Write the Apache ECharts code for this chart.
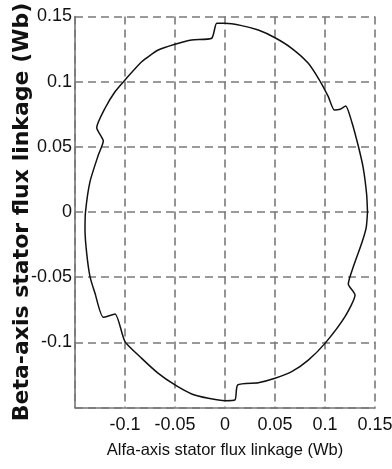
<!DOCTYPE html>
<html>
<head>
<meta charset="utf-8">
<script src="https://cdn.jsdelivr.net/npm/echarts@6/dist/echarts.min.js"></script>
<style>html,body{margin:0;padding:0;background:#fff}#c{width:392px;height:469px}</style>
</head>
<body>
<div id="c"></div>
<script>
// Stator flux trajectory (alpha, beta) in Wb, traced counterclockwise
var fluxAlpha = [0.1425, 0.1417, 0.1383, 0.1333, 0.1267, 0.1207, 0.115, 0.1093, 0.1033, 0.095, 0.0833, 0.0667, 0.05, 0.0333, 0.0167, 0, -0.0083, -0.0133, -0.0333, -0.05, -0.0667, -0.0833, -0.1, -0.11, -0.12, -0.1283, -0.1217, -0.1267, -0.135, -0.1395, -0.14, -0.1383, -0.135, -0.13, -0.1217, -0.11, -0.1, -0.0833, -0.0667, -0.05, -0.0333, -0.0167, 0, 0.01, 0.0127, 0.0333, 0.05, 0.0667, 0.0833, 0.1, 0.12, 0.13, 0.1233, 0.1283, 0.1367, 0.1412, 0.1425];
var fluxBeta = [0.0, 0.013, 0.0335, 0.0506, 0.0693, 0.0813, 0.0788, 0.0783, 0.0885, 0.1005, 0.1141, 0.1256, 0.1337, 0.1396, 0.143, 0.1448, 0.1448, 0.1333, 0.132, 0.1287, 0.1243, 0.1153, 0.1013, 0.0923, 0.0796, 0.0647, 0.0545, 0.0437, 0.0233, 0.0, -0.0138, -0.0317, -0.0496, -0.0624, -0.0808, -0.0783, -0.0995, -0.1123, -0.1238, -0.1327, -0.1396, -0.1429, -0.1448, -0.1442, -0.1327, -0.131, -0.1276, -0.1225, -0.1136, -0.1008, -0.0803, -0.0637, -0.0552, -0.042, -0.024, -0.012, 0.0];
var xTickLabels = ['', '-0.1', '-0.05', '0', '0.05', '0.1', '0.15'];
var yTickLabels = ['', '-0.1', '-0.05', '0', '0.05', '0.1', '0.15'];
var xName = 'Alfa-axis stator flux linkage (Wb)';
var yName = 'Beta-axis stator flux linkage (Wb)';

var pts = fluxAlpha.map(function (a, i) { return [a, fluxBeta[i]]; });
var font = '"Liberation Sans", Arial, sans-serif';
var gridLine = { show: true, showMinLine: true, showMaxLine: true, lineStyle: { color: '#7a7a7a', width: 1.6, type: [8, 5] } };
var axisLine = { show: true, onZero: false, lineStyle: { color: '#777', width: 1.6 } };

var chart = echarts.init(document.getElementById('c'), null, { renderer: 'canvas' });
chart.setOption({
  animation: false,
  backgroundColor: '#fff',
  grid: { left: 75, right: 17, top: 16.5, bottom: 61.5, containLabel: false, outerBoundsMode: 'none' },
  xAxis: {
    type: 'value', min: -0.15, max: 0.15, interval: 0.05,
    axisLine: axisLine, axisTick: { show: false }, splitLine: gridLine,
    axisLabel: { color: '#111', fontFamily: font, fontSize: 18, margin: 9,
      formatter: function (v, i) { return xTickLabels[i]; } },
    name: xName, nameLocation: 'middle', nameGap: 34, nameMoveOverlap: false,
    nameTextStyle: { color: '#111', fontFamily: font, fontSize: 16.5 }
  },
  yAxis: {
    type: 'value', min: -0.15, max: 0.15, interval: 0.05,
    axisLine: axisLine, axisTick: { show: false }, splitLine: gridLine,
    axisLabel: { color: '#111', fontFamily: font, fontSize: 18, margin: 3,
      formatter: function (v, i) { return yTickLabels[i]; } },
    name: yName, nameLocation: 'middle', nameGap: 42, nameMoveOverlap: false,
    nameTextStyle: { color: '#111', fontFamily: '"DejaVu Sans", sans-serif', fontWeight: 'bold', fontSize: 22 }
  },
  series: [{
    type: 'line', data: pts, showSymbol: false, smooth: 0.2,
    lineStyle: { color: '#111', width: 1.5 }
  }]
});
</script>
</body>
</html>
